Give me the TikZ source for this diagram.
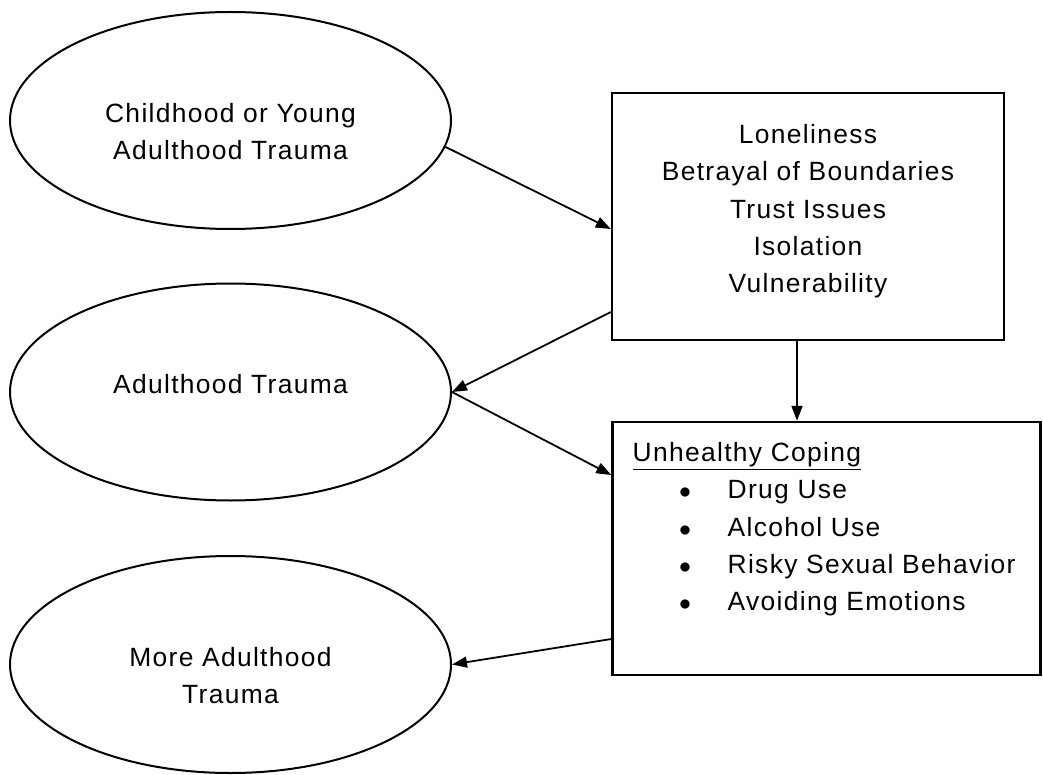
\documentclass[tikz,border=0pt]{standalone}
\usepackage{fontspec}
\setmainfont{Liberation Sans}[LetterSpace=5]
\usepackage{tikz}
\usetikzlibrary{arrows.meta,shapes.geometric}

\newcommand{\bul}{\hspace*{23.2pt}\makebox[24.3pt][l]{$\bullet$}}

\tikzset{
	oval/.style={draw, ellipse, line width=1pt, minimum width=220.5pt, minimum height=108.5pt, inner sep=0pt},
	panel/.style={draw, rectangle, line width=1.2pt, inner sep=0pt},
	words/.style={inner sep=0pt, font=\fontsize{13.2pt}{18.7pt}\selectfont},
	link/.style={-{Triangle[length=7.5pt,width=5.5pt]}, line width=0.9pt}
}

\begin{document}
\begin{tikzpicture}[x=0.5pt, y=-0.5pt]
	\useasboundingbox (0,0) rectangle (1043,775);
	% shapes
	\node[oval] (early) at (230.5,120.5) {};
	\node[oval] (adult) at (230.5,392) {};
	\node[oval] (more) at (230.5,664.5) {};
	\node[panel, minimum width=196pt, minimum height=123.5pt] (ties) at (808,216.5) {};
	\node[panel, minimum width=214pt, minimum height=126.5pt] (coping) at (826.5,548.5) {};
	% texts
	\node[words, align=center, anchor=north] (earlytext) at (230.5,103) {Childhood or Young\\Adulthood Trauma};
	\node[words, align=center, anchor=north] (adulttext) at (230.5,374) {Adulthood Trauma};
	\node[words, align=center, anchor=north] (moretext) at (230.5,647) {More Adulthood\\Trauma};
	\node[words, align=center, anchor=north] (tiestext) at ([yshift=-16pt]ties.north) {Loneliness\\Betrayal of Boundaries\\Trust Issues\\Isolation\\Vulnerability};
	\node[words, align=left, anchor=north west] (copingtext) at ([xshift=10.5pt,yshift=-10.5pt]coping.north west) {\underline{Unhealthy Coping}\\\bul Drug Use\\\bul Alcohol Use\\\bul Risky Sexual Behavior\\\bul Avoiding Emotions};
	% arrows
	\draw[link] (early.-7) -- ([yshift=-6.25pt]ties.west);
	\draw[link] ([yshift=-47.75pt]ties.west) -- (adult.east);
	\draw[link] (adult.east) -- ([yshift=36.75pt]coping.west);
	\draw[link] ([xshift=-5.5pt]ties.south) -- ([xshift=-5.5pt]ties.south |- coping.north);
	\draw[link] ([yshift=-45.25pt]coping.west) -- (more.east);
\end{tikzpicture}
\end{document}
